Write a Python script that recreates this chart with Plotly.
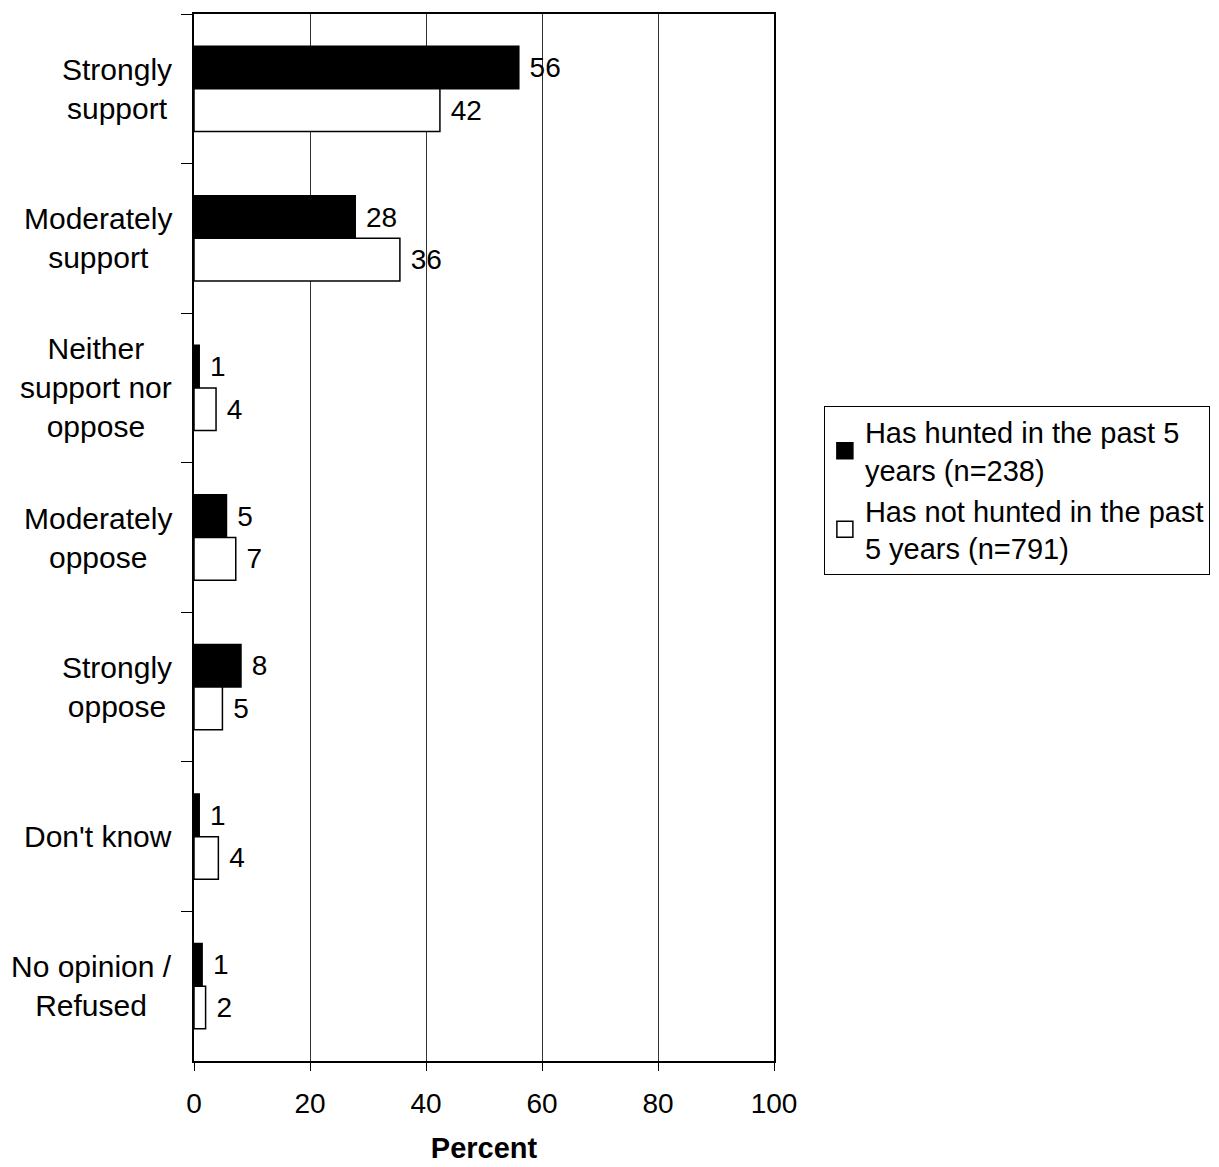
import plotly.graph_objects as go

categories = ["Strongly<br>support", "Moderately<br>support", "Neither<br>support nor<br>oppose",
              "Moderately<br>oppose", "Strongly<br>oppose", "Don't know", "No opinion /<br>Refused"]
cat_keys = ["Strongly support", "Moderately support", "Neither support nor oppose",
            "Moderately oppose", "Strongly oppose", "Don't know", "No opinion / Refused"]

hunted = [56.0, 27.8, 0.9, 5.6, 8.1, 0.9, 1.4]
hunted_labels = ["56", "28", "1", "5", "8", "1", "1"]
not_hunted = [42.4, 35.5, 3.8, 7.2, 4.9, 4.2, 2.0]
not_hunted_labels = ["42", "36", "4", "7", "5", "4", "2"]

series_names = ["Has hunted in the past 5<br>years (n=238)",
                "Has not hunted in the past<br>5 years (n=791)"]
series_colors = ["black", "white"]
x_ticks = [0, 20, 40, 60, 80, 100]

FONT = "Liberation Sans, Arial, sans-serif"
FS_TICK = 28
FS_LAB = 30

fig = go.Figure()
for vals, labs, name, col in [(hunted, hunted_labels, series_names[0], series_colors[0]),
                              (not_hunted, not_hunted_labels, series_names[1], series_colors[1])]:
    fig.add_trace(go.Bar(
        y=cat_keys, x=vals, orientation="h", name=name, showlegend=False,
        marker=dict(color=col, line=dict(color="black", width=1.5)),
        text=labs, texttemplate="\u00a0%{text}", textposition="outside", cliponaxis=False,
        textfont=dict(size=FS_TICK, color="black", family=FONT),
    ))
# legend-only entries with larger square swatches
for name, col in zip(series_names, series_colors):
    fig.add_trace(go.Scatter(
        x=[None], y=[None], mode="markers", name=name, showlegend=True,
        marker=dict(symbol="square", size=18, color=col, line=dict(color="black", width=1.5)),
    ))

for key, lab in zip(cat_keys, categories):
    fig.add_annotation(
        x=0, xref="paper", y=key, yref="y", text=lab, showarrow=False,
        xanchor="right", yanchor="middle", align="center", xshift=-20,
        font=dict(size=FS_LAB, color="black", family=FONT),
    )

fig.update_layout(
    width=1219, height=1167,
    margin=dict(l=186, r=453, t=4, b=114),
    paper_bgcolor="white", plot_bgcolor="white",
    barmode="group", bargap=0.43, bargroupgap=0,
    font=dict(family=FONT, size=FS_TICK, color="black"),
    legend=dict(
        x=1.086, y=0.626, xanchor="left", yanchor="top",
        bordercolor="black", borderwidth=1, bgcolor="white",
        font=dict(size=29, family=FONT, color="black"),
        itemwidth=30, tracegroupgap=0, itemsizing="trace",
    ),
    showlegend=True,
)
fig.update_xaxes(
    range=[0, 100], tickvals=x_ticks, ticktext=[str(v) for v in x_ticks],
    showgrid=True, gridcolor="#333333", gridwidth=1,
    showline=True, linecolor="black", linewidth=2, mirror=True,
    ticks="outside", ticklen=8, tickcolor="black", ticklabelstandoff=8,
    tickfont=dict(size=FS_TICK, family=FONT, color="black"),
    title=dict(text="<b>Percent</b>", font=dict(size=29, family=FONT, color="black"), standoff=20),
    zeroline=False,
)
fig.update_yaxes(
    categoryorder="array", categoryarray=cat_keys, autorange="reversed",
    showticklabels=False, ticks="outside", ticklen=11, tickcolor="black",
    tickson="boundaries",
    showline=True, linecolor="black", linewidth=2, mirror=True,
    showgrid=False,
)

fig.write_html("out.html")
